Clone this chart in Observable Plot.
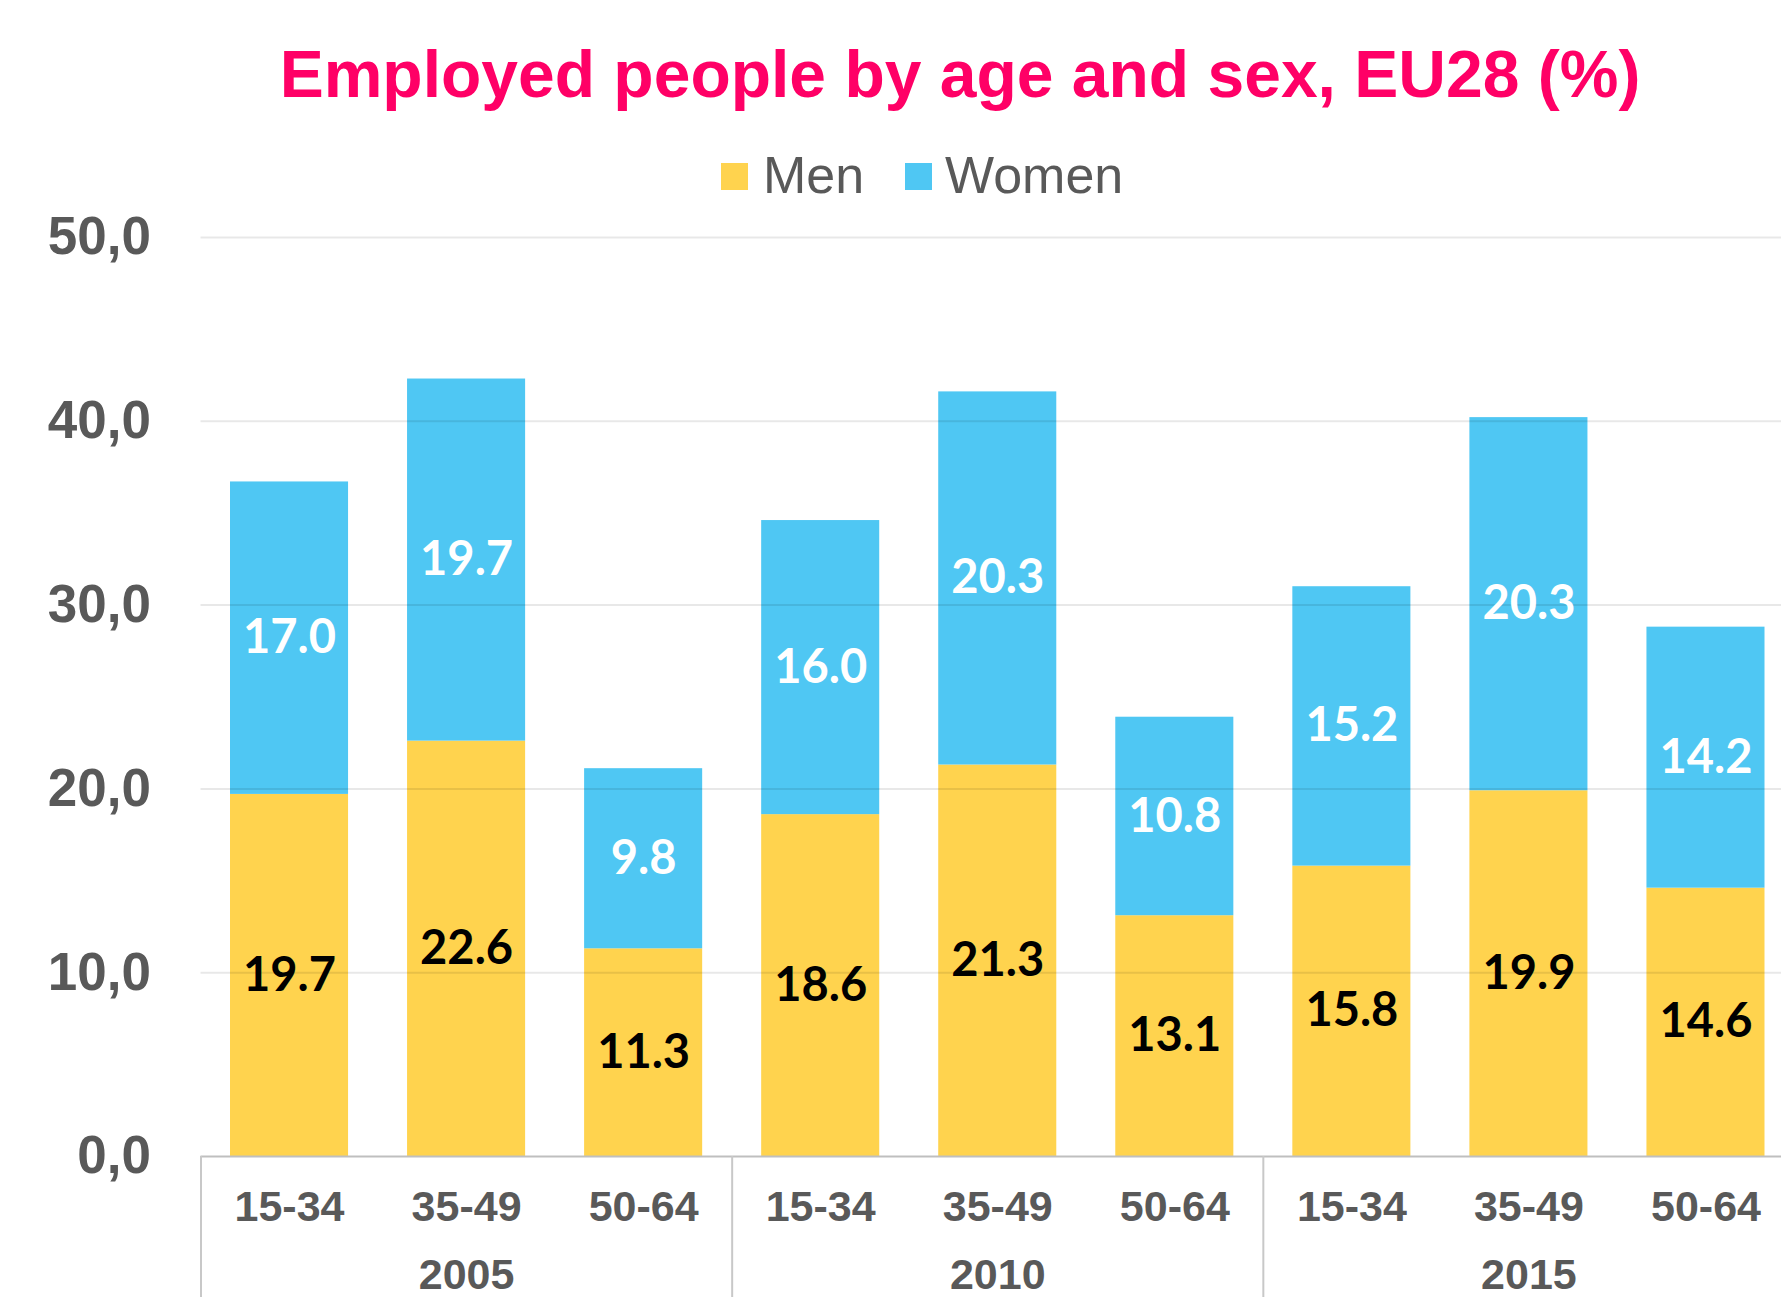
<!DOCTYPE html>
<html>
<head>
<meta charset="utf-8">
<script src="https://cdn.jsdelivr.net/npm/d3@7"></script>
<script src="https://cdn.jsdelivr.net/npm/@observablehq/plot@0.6"></script>
<style>
  html, body { margin: 0; padding: 0; background: #fff; overflow: hidden; width: 1781px; height: 1297px; }
  #wrap { position: relative; width: 1781px; height: 1297px; overflow: hidden; }
  #chart { position: absolute; left: 0; top: 0; width: 1800px; height: 1297px; }
  #chart svg { max-width: none !important; width: 1800px; height: 1297px; }
  #title { position: absolute; left: 960px; top: 41px; transform: translateX(-50%); white-space: nowrap;
    font-family: "Liberation Sans", Arial, sans-serif; font-weight: bold; font-size: 66px; line-height: 66px; color: #FF0066; }
  .lg-sw { position: absolute; width: 27px; height: 27px; top: 163px; }
  .lg-tx { position: absolute; top: 149px; font-family: "Liberation Sans", Arial, sans-serif; font-size: 52px; line-height: 52px; color: #595959; white-space: nowrap; }
</style>
</head>
<body>
<div id="wrap">
  <div id="chart"></div>
  <div id="title">Employed people by age and sex, EU28 (%)</div>
  <div class="lg-sw" id="sw0" style="left:721px"></div>
  <div class="lg-tx" id="tx0" style="left:763px"></div>
  <div class="lg-sw" id="sw1" style="left:905px"></div>
  <div class="lg-tx" id="tx1" style="left:945px"></div>
</div>
<script>
const years = ["2005", "2010", "2015"];
const ages = ["15-34", "35-49", "50-64"];
const series = ["Men", "Women"];
const colors = ["#FFD34E", "#4FC7F3"];
const men =   [19.7, 22.6, 11.3, 18.6, 21.3, 13.1, 15.8, 19.9, 14.6];
const women = [17.0, 19.7, 9.8, 16.0, 20.3, 10.8, 15.2, 20.3, 14.2];
const yTicks = [0, 10, 20, 30, 40, 50];

// legend
series.forEach((s, k) => {
  document.getElementById("sw" + k).style.background = colors[k];
  document.getElementById("tx" + k).textContent = s;
});

// table
const rows = [];
men.forEach((v, i) => rows.push({i, year: years[Math.floor(i / 3)], age: ages[i % 3], sex: "Men", value: v}));
women.forEach((v, i) => rows.push({i, year: years[Math.floor(i / 3)], age: ages[i % 3], sex: "Women", value: v}));

const n = men.length;
const groupBounds = d3.range(0, n + 1, ages.length);
const ageTicks = d3.range(n).map(i => i + 0.5);
const yearTicks = years.map((y, k) => k * ages.length + ages.length / 2);

const labelFont = "Lato, 'Open Sans', sans-serif";

const chart = Plot.plot({
  width: 1800,
  height: 1297,
  marginLeft: 200.5,
  marginRight: 6,
  marginTop: 237,
  marginBottom: 141,
  x: {type: "linear", domain: [0, n], label: null},
  y: {domain: [0, 50], label: null},
  color: {domain: series, range: colors},
  style: {fontFamily: "'Liberation Sans', Arial, sans-serif", background: "transparent", overflow: "visible"},
  marks: [
    Plot.rectY(rows, {x: "i", interval: 1, y: "value", fill: "sex", insetLeft: 29.5, insetRight: 29.5}),
    Plot.gridY(yTicks.filter(t => t > 0), {stroke: "#000", strokeOpacity: 0.09, strokeWidth: 2}),
    Plot.ruleY([0], {stroke: "#BFBFBF", strokeWidth: 2}),
    Plot.text(rows, Plot.stackY({
      x: d => d.i + 0.5, y: "value", z: "sex",
      text: d => d.sex === "Men" ? d.value.toFixed(1) : "",
      fill: "#000", fontFamily: labelFont, fontWeight: 700, fontSize: 47
    })),
    Plot.text(rows, Plot.stackY({
      x: d => d.i + 0.5, y: "value", z: "sex",
      text: d => d.sex === "Women" ? d.value.toFixed(1) : "",
      fill: "#fff", fontFamily: labelFont, fontWeight: 700, fontSize: 47
    })),
    Plot.axisY({
      ticks: yTicks, tickFormat: d => d.toFixed(1).replace(".", ","),
      tickSize: 0, tickPadding: 50, fontSize: 53, fontWeight: "bold", color: "#595959", label: null
    }),
    Plot.axisX({
      ticks: groupBounds, tickFormat: () => "", tickSize: 141, stroke: "#C8C8C8", strokeWidth: 2, label: null
    }),
    Plot.axisX({
      ticks: ageTicks, tickFormat: t => ages[Math.floor(t) % ages.length],
      tickSize: 0, tickPadding: 34, fontSize: 43, fontWeight: "bold", color: "#595959", label: null
    }),
    Plot.axisX({
      ticks: yearTicks, tickFormat: t => years[Math.floor(t / ages.length)],
      tickSize: 0, tickPadding: 102, fontSize: 43, fontWeight: "bold", color: "#595959", label: null
    })
  ]
});
document.getElementById("chart").appendChild(chart);
</script>
</body>
</html>
